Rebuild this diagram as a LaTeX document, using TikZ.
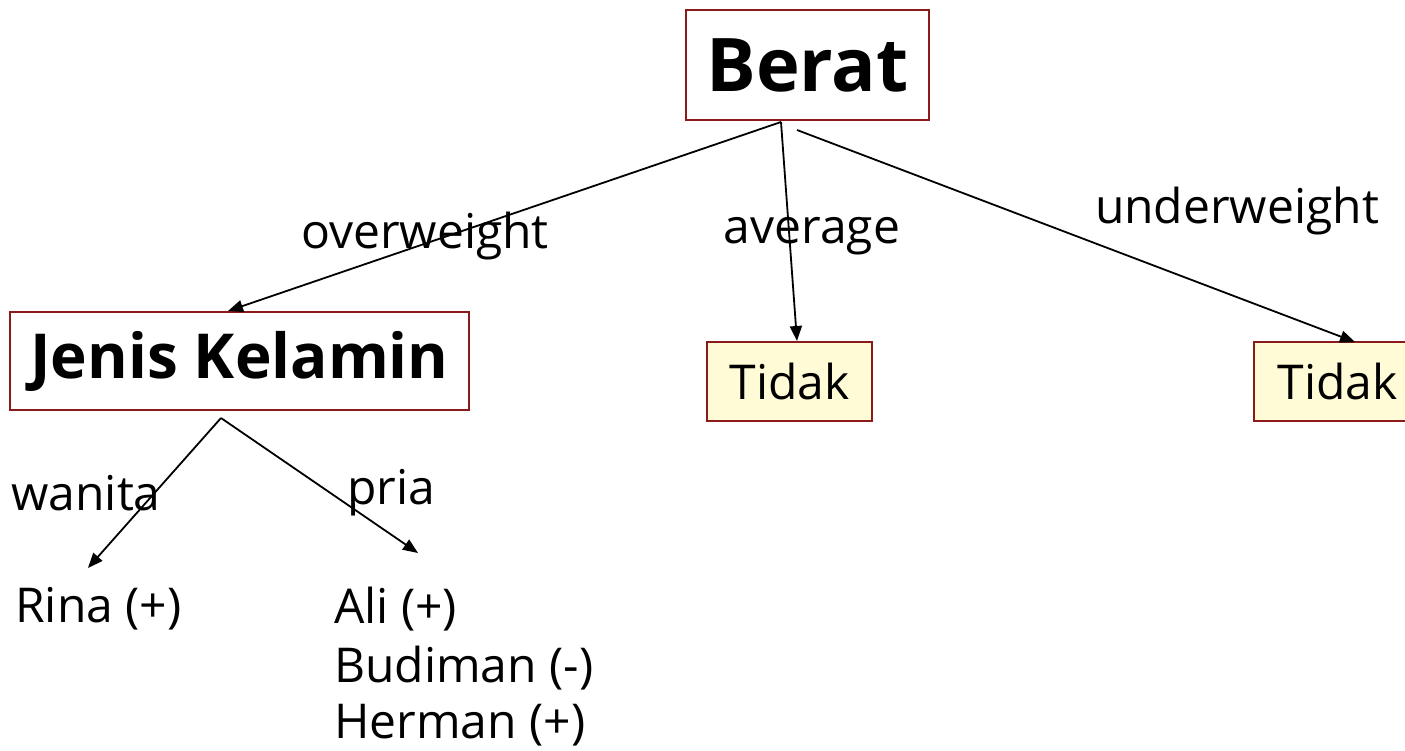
\documentclass[tikz,border=0pt]{standalone}
\usepackage{fontspec}
\setmainfont{Open Sans}
\usetikzlibrary{arrows.meta}
\definecolor{boxred}{HTML}{8B1A1A}
\definecolor{boxyellow}{HTML}{FFFBD6}
\tikzset{
  conn/.style={draw=black, line width=1.8pt, -{Triangle[length=15pt,width=12pt]}},
  attrbox/.style={draw=boxred, line width=1.6pt, fill=white, inner sep=0pt, font=\fontsize{74}{78}\selectfont\bfseries},
  leafbox/.style={draw=boxred, line width=1.6pt, fill=boxyellow, inner sep=0pt, font=\fontsize{48}{52}\selectfont},
  lbl/.style={font=\fontsize{48}{52}\selectfont, inner sep=0pt},
}
\begin{document}
\begin{tikzpicture}[x=1pt,y=-1pt]
\useasboundingbox (0,0) rectangle (1405,750);
\node[attrbox, minimum width=243pt, minimum height=110pt] (berat) at (807.5,65) {Berat};
\node[attrbox, minimum width=459pt, minimum height=98pt, font=\fontsize{62}{66}\selectfont\bfseries] (jenis) at (239.5,361) {\raisebox{-6pt}{Jenis Kelamin}};
\node[leafbox, minimum width=165pt, minimum height=79pt] (tidak1) at (789.5,381.5) {\raisebox{-2pt}{Tidak}};
\node[leafbox, minimum width=165pt, minimum height=79pt, anchor=west] (tidak2) at (1253,381.5) {\makebox[165pt][l]{\hspace*{24pt}\raisebox{-2pt}{Tidak}}};

\coordinate (s1) at (781,122);
\coordinate (s2) at (797,130);
\coordinate (e1) at (228,311);
\coordinate (e2) at (797,341);
\coordinate (e3) at (1355,342);
\draw[conn] (s1) -- (e1);
\draw[conn] (s1) -- (e2);
\draw[conn] (s2) -- (e3);

\coordinate (j0) at (221,418);
\coordinate (rinaend) at (88,568);
\coordinate (aliend) at (418,553);
\draw[conn] (j0) -- (rinaend);
\draw[conn] (j0) -- (aliend);

\node[lbl] (ow) at (425,236) {overweight};
\node[lbl] (avg) at (812,236) {average};
\node[lbl] (uw) at (1237,211) {underweight};
\node[lbl] (wan) at (86,493) {wanita};
\node[lbl] (pria) at (391,493) {pria};

\node[lbl, anchor=west] (rina) at (15,609) {Rina (+)};
\node[lbl, anchor=west] (ali) at (334,609) {Ali (+)};
\node[lbl, anchor=west] (budi) at (334,668) {Budiman (-)};
\node[lbl, anchor=west] (herman) at (334,725) {Herman (+)};
\end{tikzpicture}
\end{document}
